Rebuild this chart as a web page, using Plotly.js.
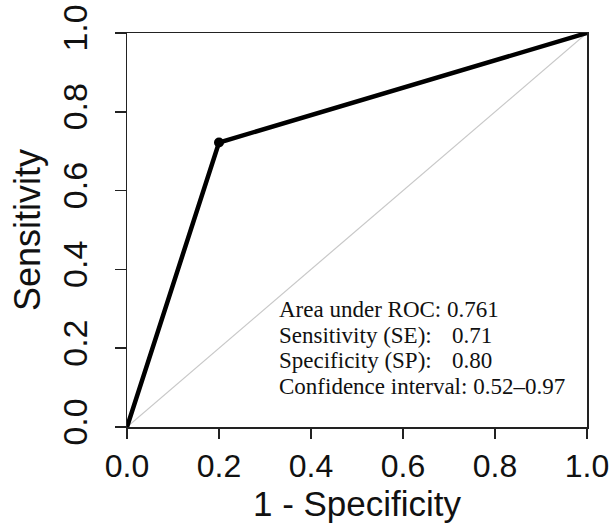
<!DOCTYPE html>
<html>
<head>
<meta charset="utf-8">
<script src="https://cdn.plot.ly/plotly-3.0.1.min.js"></script>
<style>html,body{margin:0;padding:0;background:#fff;}#chart{width:615px;height:523px;}</style>
</head>
<body>
<div id="chart"></div>
<script>
// ROC curve data (1 - Specificity, Sensitivity)
const fpr = [0, 0.2, 1];
const tpr = [0, 0.722, 1];
// Reference (chance) diagonal
const diagX = [0, 1];
const diagY = [0, 1];
// Operating point
const pointX = [0.2];
const pointY = [0.722];
// Tick values and labels
const tickVals = [0, 0.2, 0.4, 0.6, 0.8, 1.0];
const tickText = ["0.0", "0.2", "0.4", "0.6", "0.8", "1.0"];
// Summary text lines
const statLabels = ["Area under ROC: 0.761", "Sensitivity (SE):", "Specificity (SP):", "Confidence interval: 0.52\u20130.97"];
const statValues = ["", "0.71", "0.80", ""];

const traces = [
  {x: diagX, y: diagY, mode: 'lines', line: {color: '#c8c8c8', width: 1.2}, hoverinfo: 'skip', showlegend: false},
  {x: fpr, y: tpr, mode: 'lines', line: {color: '#000', width: 4.5}, showlegend: false},
  {x: pointX, y: pointY, mode: 'markers', marker: {color: '#000', size: 10, symbol: 'circle'}, showlegend: false}
];

const labelX = 0.326, valueX = 0.703;
const lineY = [0.297, 0.233, 0.170, 0.104];
const serif = {family: 'Liberation Serif, Times New Roman, serif', size: 23, color: '#111'};
const annotations = [];
statLabels.forEach((t, i) => {
  annotations.push({x: labelX, y: lineY[i], xref: 'x', yref: 'y', text: t, showarrow: false,
    xanchor: 'left', yanchor: 'middle', font: serif});
  if (statValues[i]) {
    annotations.push({x: valueX, y: lineY[i], xref: 'x', yref: 'y', text: statValues[i], showarrow: false,
      xanchor: 'left', yanchor: 'middle', font: serif});
  }
});

const sans = 'Liberation Sans, Arial, sans-serif';
const layout = {
  width: 615, height: 523,
  margin: {l: 127, r: 28, t: 33, b: 96},
  paper_bgcolor: '#fff', plot_bgcolor: '#fff',
  showlegend: false,
  xaxis: {
    range: [0, 1], tickvals: tickVals, ticktext: tickText,
    showgrid: false, zeroline: false, showline: true, mirror: true,
    linecolor: '#222', linewidth: 1.5,
    ticks: 'outside', ticklen: 10, tickwidth: 1.5, tickcolor: '#222',
    tickfont: {family: sans, size: 32, color: '#111'},
    title: {text: '1 - Specificity', font: {family: sans, size: 35, color: '#111'}, standoff: 7}
  },
  yaxis: {
    range: [0, 1], tickvals: tickVals, ticktext: tickText, tickangle: -90,
    showgrid: false, zeroline: false, showline: true, mirror: true,
    linecolor: '#222', linewidth: 1.5,
    ticks: 'outside', ticklen: 11, tickwidth: 1.5, tickcolor: '#222',
    ticklabelstandoff: 14,
    tickfont: {family: sans, size: 34, color: '#111'},
    title: {text: 'Sensitivity', font: {family: sans, size: 36, color: '#111'}, standoff: 4}
  },
  annotations: annotations
};

Plotly.newPlot('chart', traces, layout, {staticPlot: true, displayModeBar: false});
</script>
</body>
</html>
